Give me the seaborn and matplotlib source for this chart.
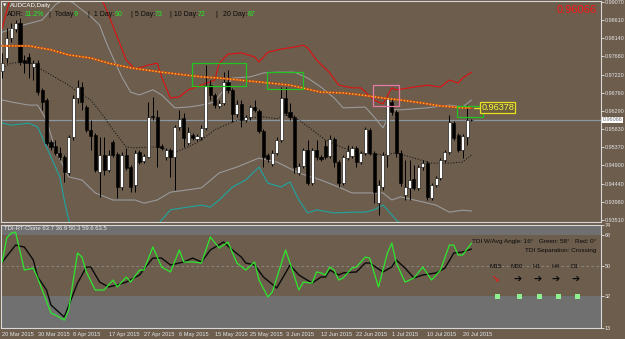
import matplotlib
matplotlib.use("Agg")
import matplotlib.pyplot as plt
import numpy as np
import pandas as pd
import seaborn as sns
from matplotlib.patches import Rectangle

# ---------------- data ----------------
opens = [0.9731, 0.9764, 0.9815, 0.9838, 0.9853, 0.9759, 0.9767, 0.9741, 0.9751, 0.9683,
         0.9657, 0.9550, 0.9540, 0.9522, 0.9512, 0.9471, 0.9563, 0.9662, 0.9690, 0.9639,
         0.9581, 0.9568, 0.9473, 0.9517, 0.9479, 0.9550, 0.9519, 0.9435, 0.9517, 0.9486,
         0.9440, 0.9524, 0.9502, 0.9512, 0.9616, 0.9614, 0.9540, 0.9512, 0.9530, 0.9512,
         0.9588, 0.9611, 0.9547, 0.9568, 0.9558, 0.9563, 0.9586, 0.9695, 0.9670, 0.9642,
         0.9649, 0.9703, 0.9683, 0.9621, 0.9647, 0.9606, 0.9614, 0.9639, 0.9629, 0.9578,
         0.9517, 0.9494, 0.9522, 0.9555, 0.9662, 0.9626, 0.9614, 0.9471, 0.9489, 0.9530,
         0.9445, 0.9530, 0.9512, 0.9540, 0.9514, 0.9558, 0.9499, 0.9445, 0.9509, 0.9514,
         0.9535, 0.9499, 0.9522, 0.9581, 0.9522, 0.9394, 0.9435, 0.9517, 0.9652, 0.9626,
         0.9522, 0.9415, 0.9433, 0.9456, 0.9433, 0.9486, 0.9496, 0.9407, 0.9440, 0.9458,
         0.9504, 0.9524, 0.9598, 0.9568, 0.9530, 0.9563, 0.9606]
closes = [0.9751, 0.9815, 0.9841, 0.9853, 0.9754, 0.9751, 0.9751, 0.9751, 0.9677, 0.9652,
          0.9547, 0.9537, 0.9522, 0.9512, 0.9473, 0.9563, 0.9662, 0.9690, 0.9652, 0.9581,
          0.9565, 0.9479, 0.9517, 0.9479, 0.9517, 0.9517, 0.9435, 0.9517, 0.9484, 0.9435,
          0.9522, 0.9499, 0.9514, 0.9614, 0.9614, 0.9537, 0.9535, 0.9530, 0.9512, 0.9588,
          0.9609, 0.9560, 0.9575, 0.9560, 0.9565, 0.9586, 0.9695, 0.9670, 0.9644, 0.9649,
          0.9703, 0.9683, 0.9621, 0.9647, 0.9606, 0.9614, 0.9639, 0.9632, 0.9578, 0.9512,
          0.9507, 0.9522, 0.9555, 0.9662, 0.9624, 0.9614, 0.9486, 0.9489, 0.9530, 0.9445,
          0.9530, 0.9512, 0.9507, 0.9512, 0.9558, 0.9499, 0.9445, 0.9512, 0.9527, 0.9535,
          0.9499, 0.9522, 0.9583, 0.9522, 0.9422, 0.9440, 0.9517, 0.9662, 0.9626, 0.9522,
          0.9445, 0.9435, 0.9453, 0.9433, 0.9486, 0.9496, 0.9410, 0.9440, 0.9458, 0.9504,
          0.9524, 0.9601, 0.9560, 0.9530, 0.9565, 0.9606, 0.9607]
highs = [0.9777, 0.9841, 0.9853, 0.9861, 0.9866, 0.9772, 0.9777, 0.9759, 0.9759, 0.9688,
         0.9662, 0.9555, 0.9555, 0.9537, 0.9517, 0.9568, 0.9670, 0.9708, 0.9703, 0.9644,
         0.9606, 0.9573, 0.9563, 0.9563, 0.9530, 0.9555, 0.9524, 0.9524, 0.9535, 0.9491,
         0.9530, 0.9530, 0.9519, 0.9652, 0.9665, 0.9632, 0.9545, 0.9535, 0.9535, 0.9593,
         0.9632, 0.9624, 0.9588, 0.9573, 0.9570, 0.9593, 0.9746, 0.9708, 0.9675, 0.9657,
         0.9728, 0.9733, 0.9688, 0.9657, 0.9657, 0.9619, 0.9644, 0.9657, 0.9634, 0.9583,
         0.9522, 0.9530, 0.9563, 0.9690, 0.9690, 0.9649, 0.9619, 0.9496, 0.9535, 0.9555,
         0.9535, 0.9555, 0.9517, 0.9555, 0.9568, 0.9563, 0.9504, 0.9517, 0.9542, 0.9540,
         0.9540, 0.9527, 0.9588, 0.9586, 0.9527, 0.9453, 0.9524, 0.9665, 0.9660, 0.9632,
         0.9530, 0.9504, 0.9504, 0.9491, 0.9491, 0.9504, 0.9502, 0.9445, 0.9463, 0.9509,
         0.9530, 0.9619, 0.9603, 0.9573, 0.9570, 0.9644, 0.9609]
lows = [0.9713, 0.9751, 0.9805, 0.9830, 0.9746, 0.9726, 0.9713, 0.9708, 0.9670, 0.9632,
        0.9542, 0.9530, 0.9517, 0.9504, 0.9448, 0.9466, 0.9555, 0.9649, 0.9632, 0.9575,
        0.9530, 0.9473, 0.9410, 0.9466, 0.9473, 0.9512, 0.9407, 0.9428, 0.9479, 0.9422,
        0.9422, 0.9494, 0.9496, 0.9509, 0.9606, 0.9486, 0.9530, 0.9504, 0.9461, 0.9428,
        0.9581, 0.9537, 0.9542, 0.9555, 0.9552, 0.9555, 0.9581, 0.9657, 0.9637, 0.9637,
        0.9644, 0.9675, 0.9601, 0.9614, 0.9588, 0.9601, 0.9606, 0.9626, 0.9573, 0.9486,
        0.9499, 0.9489, 0.9517, 0.9550, 0.9619, 0.9606, 0.9471, 0.9466, 0.9484, 0.9440,
        0.9440, 0.9504, 0.9502, 0.9507, 0.9509, 0.9486, 0.9435, 0.9440, 0.9504, 0.9509,
        0.9486, 0.9494, 0.9517, 0.9517, 0.9394, 0.9364, 0.9428, 0.9486, 0.9619, 0.9512,
        0.9438, 0.9402, 0.9402, 0.9428, 0.9428, 0.9479, 0.9402, 0.9402, 0.9435, 0.9453,
        0.9499, 0.9519, 0.9555, 0.9524, 0.9509, 0.9542, 0.9603]

# long moving average (orange / yellow)
ma_long_x = [0, 6, 11, 15, 20, 24, 29, 36, 45, 49, 58, 65, 72, 77, 81, 86, 90, 95, 99, 104, 106]
ma_long_v = [0.9795, 0.9795, 0.9785, 0.9772, 0.9764, 0.9751, 0.9739, 0.9728, 0.9716, 0.9713,
             0.9703, 0.9695, 0.9677, 0.9675, 0.9670, 0.9662, 0.9657, 0.9649, 0.9642, 0.9637, 0.9637]
# middle band (black dotted)
ma_mid_x = [0, 2, 6, 8, 11, 15, 17, 20, 23, 25, 28, 30, 33, 35, 39, 42, 45, 48, 52, 55,
            59, 62, 64, 67, 70, 73, 77, 81, 86, 89, 93, 97, 101, 104, 106]
ma_mid_v = [0.9739, 0.9751, 0.9754, 0.9741, 0.9721, 0.9695, 0.9677, 0.9657, 0.9614, 0.9581,
            0.9537, 0.9535, 0.9537, 0.9537, 0.9524, 0.9537, 0.9555, 0.9581, 0.9601, 0.9611,
            0.9614, 0.9609, 0.9619, 0.9606, 0.9581, 0.9555, 0.9535, 0.9522, 0.9517, 0.9522,
            0.9509, 0.9496, 0.9496, 0.9499, 0.9517]
# upper band (gray)
band_up_x = [0, 4, 9, 12, 14, 16, 18, 20, 22, 23, 24, 27, 29, 31, 34, 36, 39, 42, 45, 48,
             52, 56, 59, 62, 66, 69, 72, 75, 77, 82, 84, 86, 88, 90, 96, 101, 104, 106]
band_up_v = [0.9830, 0.9846, 0.9861, 0.9900, 0.9915, 0.9905, 0.9887, 0.9870, 0.9848, 0.9818,
             0.9790, 0.9716, 0.9677, 0.9670, 0.9683, 0.9670, 0.9637, 0.9639, 0.9644, 0.9652,
             0.9713, 0.9716, 0.9726, 0.9728, 0.9728, 0.9713, 0.9690, 0.9662, 0.9637, 0.9639,
             0.9614, 0.9586, 0.9632, 0.9632, 0.9637, 0.9644, 0.9639, 0.9657]
# lower band (gray)
band_lo_x = [0, 2, 6, 8, 10, 12, 15, 18, 21, 25, 30, 32, 35, 38, 42, 45, 49, 53, 58, 62,
             67, 72, 76, 79, 86, 88, 90, 95, 98, 101, 104, 106]
band_lo_v = [0.9657, 0.9652, 0.9644, 0.9644, 0.9606, 0.9530, 0.9461, 0.9453, 0.9420, 0.9402,
             0.9402, 0.9394, 0.9402, 0.9422, 0.9428, 0.9433, 0.9471, 0.9486, 0.9509, 0.9499,
             0.9471, 0.9453, 0.9435, 0.9420, 0.9420, 0.9402, 0.9410, 0.9397, 0.9389, 0.9371,
             0.9376, 0.9374]
# outer lower band (teal)
teal_x = [0, 2, 6, 8, 9, 11, 13, 14, 15, 18, 25, 32, 36, 38, 42, 45, 47, 49, 52, 55,
          58, 60, 63, 65, 67, 69, 71, 75, 79, 82, 84, 86, 87, 89, 93, 100, 106]
teal_v = [0.9598, 0.9593, 0.9598, 0.9588, 0.9563, 0.9512, 0.9461, 0.9402, 0.9351, 0.9300,
          0.9275, 0.9300, 0.9351, 0.9377, 0.9384, 0.9389, 0.9384, 0.9402, 0.9435, 0.9453,
          0.9486, 0.9445, 0.9435, 0.9448, 0.9402, 0.9369, 0.9377, 0.9369, 0.9371, 0.9371,
          0.9377, 0.9389, 0.9377, 0.9351, 0.9313, 0.9320, 0.9338]
# outer upper band (red)
red_x = [0, 2, 8, 14, 19, 23, 25, 28, 30, 33, 35, 36, 38, 40, 42, 45, 48, 49, 51, 54,
         57, 58, 60, 63, 66, 68, 69, 71, 74, 76, 79, 81, 84, 86, 88, 89, 96, 99, 101, 103, 104, 106]
red_v = [0.9841, 0.9925, 0.9965, 0.9985, 0.9975, 0.9902, 0.9846, 0.9759, 0.9736, 0.9746,
         0.9751, 0.9716, 0.9662, 0.9665, 0.9683, 0.9695, 0.9708, 0.9751, 0.9774, 0.9777,
         0.9767, 0.9754, 0.9779, 0.9787, 0.9792, 0.9797, 0.9790, 0.9759, 0.9726, 0.9695,
         0.9688, 0.9688, 0.9657, 0.9647, 0.9688, 0.9683, 0.9695, 0.9690, 0.9708, 0.9700,
         0.9713, 0.9728]

# zone boxes: (first bar, last bar, top price, bottom price, colour)
boxes = [(42.9, 55.1, 0.9751, 0.9693, '#22c422'),
         (59.9, 68.0, 0.9728, 0.9685, '#22c422'),
         (83.8, 89.7, 0.9695, 0.9642, '#e57aa8'),
         (102.8, 108.6, 0.9642, 0.9614, '#22c422')]

current_price = 0.96066
ma_label = 0.96378

price_ticks = [0.99070, 0.98610, 0.98140, 0.97680, 0.97220, 0.96760, 0.96290,
               0.95830, 0.95370, 0.94900, 0.94440, 0.93980, 0.93510]

# TDI indicator
tdi_green_x = [0, 1, 2, 3, 5, 7, 8, 11, 12, 14, 15, 17, 18, 19, 21, 23, 25, 26, 28, 29,
               31, 32, 34, 36, 38, 40, 41, 43, 45, 47, 49, 51, 53, 55, 57, 58, 60, 61, 64, 65,
               67, 68, 70, 71, 72, 73, 74, 75, 76, 77, 79, 80, 82, 83, 85, 87, 88, 89, 91, 93,
               95, 97, 99, 101, 102, 103, 104, 106]
tdi_green_v = [52.1, 66.3, 69.2, 69.8, 47.3, 48.5, 42.6, 21.9, 20.7, 17.7, 23.7, 57.4, 55.0, 46.2,
               35.5, 35.5, 41.4, 37.3, 43.2, 40.2, 47.3, 47.3, 61.0, 49.1, 46.2, 59.2, 52.1, 52.1,
               51.5, 66.9, 60.4, 63.9, 51.5, 47.3, 52.1, 41.4, 31.4, 34.3, 59.2, 51.5, 35.5, 40.2,
               39.6, 46.2, 45.6, 44.4, 49.1, 47.3, 41.4, 42.6, 48.5, 49.1, 55.0, 54.4, 37.3, 57.4,
               63.3, 51.5, 40.2, 42.6, 49.1, 41.4, 47.3, 62.1, 62.1, 56.2, 56.2, 63.3]
tdi_black_x = [0, 3, 5, 7, 8, 10, 11, 14, 17, 19, 20, 22, 24, 26, 28, 31, 34, 36, 38, 41,
               43, 45, 47, 50, 52, 54, 55, 57, 59, 62, 64, 65, 67, 70, 72, 73, 74, 76, 77, 80,
               82, 83, 86, 88, 89, 91, 93, 95, 98, 100, 102, 104, 106]
tdi_black_v = [52.1, 62.1, 60.9, 53.3, 43.2, 35.5, 26.6, 19.5, 39.6, 49.1, 49.1, 40.2, 37.3, 38.5,
               40.2, 44.4, 54.4, 54.4, 50.3, 52.1, 54.4, 52.1, 59.2, 63.9, 59.2, 55.0, 51.5, 50.3,
               43.2, 36.7, 45.6, 50.3, 44.4, 39.6, 43.2, 43.2, 47.3, 44.4, 45.6, 46.2, 51.5, 51.5,
               46.2, 49.1, 53.3, 48.5, 42.6, 44.4, 45.6, 48.5, 57.4, 58.0, 59.8]
tdi_ticks = [13, 32, 50, 68, 74]
tdi_hi, tdi_mid, tdi_lo = 68, 50, 32

date_labels = ['20 Mar 2015', '30 Mar 2015', '8 Apr 2015', '17 Apr 2015', '27 Apr 2015',
               '6 May 2015', '15 May 2015', '25 May 2015', '3 Jun 2015', '12 Jun 2015',
               '22 Jun 2015', '1 Jul 2015', '10 Jul 2015', '20 Jul 2015']
date_step = 8

adr_parts = [("ADR:", 'k'), ("11.2%", 'g'), ("|  Today:", 'k'), ("9", 'g'),
             ("|  1 Day:", 'k'), ("90", 'g'), ("| 5 Day:", 'k'), ("73", 'g'),
             ("| 10 Day:", 'k'), ("72", 'g'), ("|", 'k'), ("20 Day:", 'k'), ("87", 'g')]
adr_px = [7, 24, 49, 74, 88, 115, 131, 155, 170, 198, 215, 223, 248]
periods = ["M15", "M30", "H1", "H4", "D1"]
period_px = [496, 517, 537, 556, 575]
period_dir = ["down", "right", "right", "right", "right"]

# ---------------- style ----------------
sns.set_theme(style="dark")
FONT = ['Liberation Sans', 'DejaVu Sans']
plt.rcParams['font.family'] = FONT
plt.rcParams['axes.unicode_minus'] = False

W, H = 625, 339
BG = '#6c5d4d'
BAND = '#707070'
FRAME = '#d8d8d8'
TXT = '#e6e6e6'

fig = plt.figure(figsize=(W / 100, H / 100), dpi=100, facecolor=BG)


def fx(px):
    return px / W


def fy(py):
    return 1 - py / H


ax = fig.add_axes([fx(0.5), fy(222), fx(601) - fx(0.5), fy(1) - fy(222)])
ax2 = fig.add_axes([fx(0.5), fy(328), fx(601) - fx(0.5), fy(225) - fy(328)])
for a in (ax, ax2):
    a.set_facecolor(BG)
    a.grid(False)
    for s in a.spines.values():
        s.set_color(FRAME)
        s.set_linewidth(0.8)

XL = (-0.4, 135.26)
ax.set_xlim(*XL)
ax2.set_xlim(*XL)
ax.set_ylim(0.93459, 0.99095)
ax2.set_ylim(13, 74)


def line(a, xs, vs, **kw):
    sns.lineplot(x=xs, y=vs, ax=a, sort=False, estimator=None, legend=False, **kw)


# ---------------- main panel ----------------
ax.axhline(current_price, color='#8a97a4', lw=0.9, zorder=1)
line(ax, band_up_x, band_up_v, color='#9a9a9a', linewidth=0.8, zorder=2)
line(ax, band_lo_x, band_lo_v, color='#9a9a9a', linewidth=0.8, zorder=2)
line(ax, teal_x, teal_v, color='#1fa5a0', linewidth=0.8, zorder=2)
line(ax, red_x, red_v, color='#e01010', linewidth=0.8, zorder=2)
line(ax, ma_mid_x, ma_mid_v, color='#1a1a1a', linewidth=0.8, linestyle=(0, (1, 1.5)), zorder=2)

idx = np.arange(len(opens))
o = np.array(opens)
c = np.array(closes)
hi = np.array(highs)
lo = np.array(lows)
up = c >= o
body_lo = np.minimum(o, c)
body_h = np.maximum(np.abs(c - o), 0.00012)
ax.vlines(idx, lo, hi, color='black', lw=0.7, zorder=3)
ax.bar(idx[up], body_h[up], bottom=body_lo[up], width=0.7, color='white',
       edgecolor='black', linewidth=0.4, zorder=4)
ax.bar(idx[~up], body_h[~up], bottom=body_lo[~up], width=0.7, color='black',
       edgecolor='black', linewidth=0.4, zorder=4)

line(ax, ma_long_x, ma_long_v, color='#c84a1c', linewidth=1.6, zorder=5)
line(ax, ma_long_x, ma_long_v, color='#ffd21e', linewidth=0.9, linestyle=(0, (1, 1.6)), zorder=6)

for x0, x1, ytop, ybot, col in boxes:
    ax.add_patch(Rectangle((x0, ybot), x1 - x0, ytop - ybot, fill=False,
                           edgecolor=col, linewidth=0.9, zorder=7))

ax.plot([ma_long_x[-1] + 0.5, 107.9], [ma_label, ma_label], color='#e8e020', lw=0.9, zorder=7)
ax.text(108.2, ma_label, f"{ma_label:.5f}", color='#ffff3c', fontsize=6.6, va='center',
        ha='left', zorder=8,
        bbox=dict(boxstyle='square,pad=0.15', facecolor='#6c5d3c', edgecolor='#e8e020', linewidth=0.9))

ax.set_xticks([])
ax.yaxis.tick_right()
ax.set_yticks(price_ticks)
ax.set_yticklabels([f"{v:.5f}" for v in price_ticks])
ax.tick_params(axis='y', colors=TXT, labelsize=3.9, length=2, width=0.6, pad=0.8, direction='out')
ax.set_xlabel('')
ax.set_ylabel('')
ax.text(1.003, current_price, f"{current_price:.5f}", transform=ax.get_yaxis_transform(),
        fontsize=3.9, color='#707070', va='center', ha='left', zorder=9,
        bbox=dict(boxstyle='square,pad=0.1', facecolor='white', edgecolor='none'))

# header texts
fig.text(fx(3), fy(5.5), "\u25BC", color='white', fontsize=3.2, va='center', ha='left',
         family=['DejaVu Sans'])
fig.text(fx(10), fy(5.5), "AUDCAD,Daily", color='white', fontsize=4.4, va='center', ha='left')
for (txt, col), px in zip(adr_parts, adr_px):
    fig.text(fx(px), fy(14.7), txt, color=('#0a0a0a' if col == 'k' else '#22ee22'),
             fontsize=5.0, va='center', ha='left')
fig.text(fx(597), fy(10), f"{0.96066:.5f}", color='#ff1010', fontsize=8.0, va='center', ha='right')

# ---------------- TDI panel ----------------
ax2.axhspan(tdi_hi, 80, color=BAND, zorder=0, lw=0)
ax2.axhspan(0, tdi_lo, color=BAND, zorder=0, lw=0)
ax2.axhline(tdi_mid, color='#8c8c8c', lw=0.6, linestyle=(0, (3, 3)), zorder=1)
line(ax2, tdi_green_x, tdi_green_v, color='#2ee82e', linewidth=0.9, zorder=3)
line(ax2, tdi_black_x, tdi_black_v, color='#0a0a0a', linewidth=1.0, zorder=2)

ax2.yaxis.tick_right()
ax2.set_yticks(tdi_ticks)
ax2.set_yticklabels([str(t) for t in tdi_ticks])
ax2.tick_params(axis='y', colors=TXT, labelsize=3.9, length=2, width=0.6, pad=0.8, direction='out')
ticks = list(range(0, date_step * len(date_labels), date_step))
ax2.set_xticks(ticks)
ax2.set_xticklabels(date_labels)
for t in ax2.get_xticklabels():
    t.set_ha('left')
ax2.tick_params(axis='x', colors=TXT, labelsize=4.1, length=2, width=0.6, pad=1, direction='out')
ax2.set_xlabel('')
ax2.set_ylabel('')

fig.text(fx(4), fy(229), "TDI-RT-Clone 63.7 36.9 50.3 59.6 63.5", color='#e8e8e8',
         fontsize=4.3, va='center', ha='left')
fig.text(fx(596), fy(242), "TDI W/Avg Angle: 16\u00b0   Green: 58\u00b0   Red: 0\u00b0",
         color='#0a0a0a', fontsize=4.6, va='center', ha='right')
fig.text(fx(596), fy(250.5), "TDI Separation: Crossing", color='#0a0a0a', fontsize=4.6,
         va='center', ha='right')
for name, px, d in zip(periods, period_px, period_dir):
    fig.text(fx(px), fy(266), name, color='#0a0a0a', fontsize=4.6, va='center', ha='center')
    glyph = "\u2798" if d == "down" else "\u2794"
    col = '#ff1010' if d == "down" else '#0a0a0a'
    fig.text(fx(px), fy(279), glyph, color=col, fontsize=7, va='center', ha='center',
             family=['DejaVu Sans'], fontweight='bold')
    fig.add_artist(Rectangle((fx(px + 2 - 2.5), fy(296 + 2.5)), 5 / W, 5 / H,
                             transform=fig.transFigure, facecolor='#8ef08e', edgecolor='none'))

fig.savefig("out.png", dpi=100, facecolor=BG)
